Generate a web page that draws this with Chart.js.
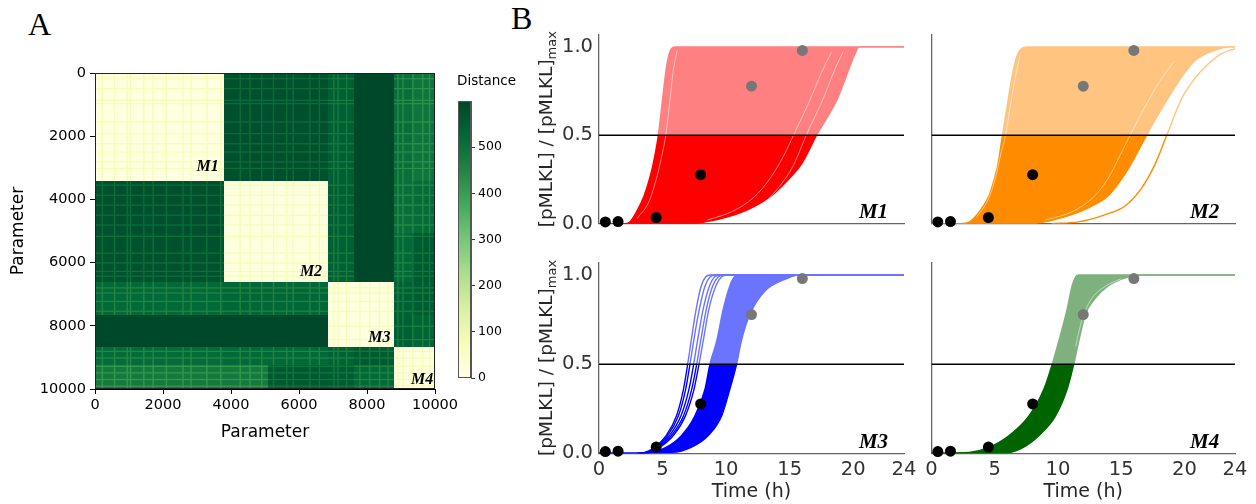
<!DOCTYPE html>
<html><head><meta charset="utf-8">
<script src="https://cdn.jsdelivr.net/npm/chart.js@4.4.1/dist/chart.umd.min.js"></script>
<style>
body{margin:0;background:#fff;width:1256px;height:504px;overflow:hidden;position:relative;}
canvas{position:absolute;}
.lbl{position:absolute;font-family:"Liberation Serif","DejaVu Serif",serif;font-size:32px;line-height:1;color:#000;}
</style></head><body>
<div class="lbl" style="left:28px;top:8px">A</div>
<div class="lbl" style="left:511px;top:2px">B</div>
<canvas id="hm" width="452" height="383" style="left:8px;top:60px"></canvas>
<canvas id="cb" width="69" height="323" style="left:452px;top:65px"></canvas>
<canvas id="p1" width="391" height="205" style="left:529px;top:29px"></canvas>
<canvas id="p2" width="321" height="205" style="left:926px;top:29px"></canvas>
<canvas id="p3" width="391" height="246" style="left:529px;top:257px"></canvas>
<canvas id="p4" width="321" height="246" style="left:926px;top:257px"></canvas>
<script>
// ---------------- Panel A data ----------------
const hmTicks = [0, 2000, 4000, 6000, 8000, 10000];
const cbTicks = [0, 100, 200, 300, 400, 500];
const cbMax = 600;
const hmColEdges = [0, 3790, 5100, 6850, 7620, 8780, 9310, 10000];
const hmRowEdges = [0, 3430, 5060, 6620, 7650, 8670, 9230, 10000];
const hmDist = [
  [10, 578, 578, 545, 594, 505, 495],
  [578, 10, 10, 545, 594, 505, 515],
  [572, 10, 10, 540, 594, 520, 555],
  [520, 525, 525, 10, 10, 540, 548],
  [594, 594, 594, 10, 10, 545, 530],
  [515, 520, 520, 535, 552, 10, 10],
  [480, 480, 558, 552, 520, 10, 10]
];
const hmStriped = [
  [1,1,1,1,0,1,1],
  [1,1,1,1,0,1,1],
  [1,1,1,1,0,1,1],
  [1,1,1,1,1,1,1],
  [0,0,0,1,1,1,1],
  [1,1,1,1,1,1,1],
  [1,1,1,1,1,1,1]
];
const hmColStripes = [215, 576, 948, 1045, 1436, 1710, 2100, 2590, 2825, 3290, 3700, 4270, 4560, 4905, 5250, 5640, 5830, 6320, 6600, 7025, 7150, 7400, 7790, 8080, 8370, 8620, 8910, 9060, 9350, 9640, 9840];
const hmRowStripes = [180, 495, 865, 970, 1550, 1920, 2240, 2500, 2810, 3020, 3550, 3870, 4180, 4500, 4810, 5170, 5700, 6010, 6280, 6430, 6800, 6960, 7230, 7540, 8016, 8437, 8810, 9020, 9280, 9490, 9700, 9910];
const hmClusterNames = ['M1', 'M2', 'M3', 'M4'];

// ---------------- Panel B data ----------------
const timeTicks = [0, 5, 10, 15, 20, 24];
const fracTicks = [0, 0.5, 1.0];
const threshold = 0.5;
const obsTime = [0.5, 1.5, 4.5, 8, 12, 16];
const obsValue = [0.01, 0.012, 0.035, 0.277, 0.778, 0.98];
const obsKind = ['fit', 'fit', 'fit', 'fit', 'test', 'test'];

const m1Left = [[0,0],[2.0,0],[2.4,0.008],[2.96,0.068],[3.56,0.16],[3.96,0.25],[4.27,0.34],[4.67,0.5],[5.01,0.71],[5.32,0.89],[5.59,0.975],[5.98,1.0],[24,1.0]];
const m1Right = [[0,0],[7.3,0],[8.34,0.01],[10.2,0.04],[12.0,0.09],[13.6,0.16],[14.9,0.25],[15.95,0.34],[17.12,0.5],[18.78,0.71],[19.75,0.89],[20.2,0.97],[20.45,1.0],[24,1.0]];
const m1GapA = [[3.0,0.03],[3.9,0.12],[4.5,0.25],[4.9,0.37],[5.25,0.5],[5.55,0.68],[5.85,0.87],[6.15,0.98]];
const m1GapB = [[9.5,0.02],[11.5,0.06],[13.0,0.12],[14.3,0.22],[15.3,0.33],[16.3,0.5],[17.6,0.7],[18.6,0.88],[19.2,0.97]];
const m1GapC = [[8.5,0.02],[10.5,0.07],[12.2,0.15],[13.5,0.26],[14.5,0.38],[15.3,0.5],[16.6,0.7],[17.6,0.87],[18.3,0.97]];

const m2Left = [[0,0],[2.3,0],[3.0,0.01],[3.78,0.068],[4.56,0.16],[4.96,0.25],[5.27,0.34],[5.61,0.5],[6.08,0.71],[6.53,0.89],[6.92,0.975],[7.58,1.0],[24,1.0]];
const m2Right = [[0,0],[7.7,0],[10.6,0.04],[12.4,0.09],[14.0,0.16],[15.0,0.25],[15.8,0.34],[17.0,0.5],[17.95,0.62],[19.5,0.8],[20.8,0.92],[22.4,0.98],[23.7,1.0],[24,1.0]];
const m2Outlier = [[9.5,0],[11.6,0.01],[13.7,0.05],[15.3,0.1],[16.6,0.2],[17.7,0.34],[18.6,0.5],[19.8,0.71],[20.8,0.82],[21.7,0.89],[22.9,0.96],[24,0.99]];
const m2GapA = [[9.0,0.02],[11.2,0.07],[12.8,0.15],[14.0,0.26],[15.0,0.4],[15.7,0.5],[16.8,0.65],[18.0,0.8],[19.2,0.92]];
const m2GapB = [[3.6,0.04],[4.5,0.14],[5.1,0.27],[5.5,0.4],[5.85,0.5],[6.2,0.65],[6.6,0.82],[7.0,0.95]];

const m3Left = [[0,0],[3.6,0],[5.19,0.03],[6.5,0.1],[7.55,0.21],[8.34,0.36],[8.73,0.5],[9.26,0.63],[9.78,0.81],[10.3,0.94],[10.6,0.985],[10.96,1.0],[24,1.0]];
const m3Right = [[0,0],[5.72,0.005],[7.29,0.035],[8.6,0.1],[9.65,0.21],[10.3,0.36],[10.83,0.5],[11.2,0.63],[11.88,0.78],[13.06,0.91],[14.77,0.98],[15.7,1.0],[24,1.0]];
const m3EarlyA = [[3.0,0],[3.6,0.005],[4.2,0.025],[5.3,0.1],[6.1,0.21],[6.65,0.36],[6.98,0.5],[7.25,0.63],[7.65,0.81],[8.05,0.94],[8.4,0.99],[8.73,1.0],[24,1.0]];
const m3EarlyB = [[3.1,0],[3.7,0.005],[4.3,0.025],[5.4,0.1],[6.25,0.21],[6.82,0.36],[7.16,0.5],[7.45,0.63],[7.9,0.81],[8.35,0.94],[8.75,0.99],[9.13,1.0],[24,1.0]];
const m3EarlyC = [[3.2,0],[3.8,0.005],[4.4,0.025],[5.55,0.1],[6.45,0.21],[7.08,0.36],[7.45,0.5],[7.75,0.63],[8.2,0.81],[8.7,0.94],[9.1,0.99],[9.52,1.0],[24,1.0]];
const m3EarlyD = [[3.3,0],[3.9,0.005],[4.5,0.025],[5.7,0.1],[6.65,0.21],[7.3,0.36],[7.69,0.5],[8.0,0.63],[8.45,0.81],[8.95,0.94],[9.4,0.99],[9.78,1.0],[24,1.0]];
const m3EarlyE = [[3.4,0],[4.0,0.005],[4.6,0.025],[5.85,0.1],[6.8,0.21],[7.48,0.36],[7.87,0.5],[8.2,0.63],[8.65,0.81],[9.2,0.94],[9.65,0.99],[10.04,1.0],[24,1.0]];

const m4Left = [[0,0],[2.99,0.005],[4.43,0.03],[6.14,0.1],[7.71,0.21],[8.89,0.36],[9.55,0.5],[10.07,0.63],[10.73,0.81],[11.12,0.94],[11.4,0.99],[11.65,1.0],[24,1.0]];
const m4Right = [[0,0],[5.74,0],[7.19,0.03],[8.5,0.1],[9.81,0.21],[10.73,0.36],[11.25,0.5],[11.65,0.63],[12.17,0.78],[12.96,0.87],[14.0,0.94],[15.6,0.99],[16.9,1.0],[24,1.0]];
const m4Gap = [[11.4,0.6],[11.9,0.75],[12.6,0.86],[13.6,0.93],[15.0,0.98]];

// ---------------- helpers ----------------
Chart.defaults.font.family = '"DejaVu Sans", sans-serif';
Chart.defaults.animation = false;

const ylgn = ['#ffffe5','#f7fcb9','#d9f0a3','#addd8e','#78c679','#41ab5d','#238443','#006837','#004529']
  .map(h => [parseInt(h.slice(1,3),16), parseInt(h.slice(3,5),16), parseInt(h.slice(5,7),16)]);
function cmap(v) {
  const t = Math.max(0, Math.min(1, v / cbMax)) * (ylgn.length - 1);
  const i = Math.min(ylgn.length - 2, Math.floor(t));
  const f = t - i, a = ylgn[i], b = ylgn[i + 1];
  return 'rgb(' + [0,1,2].map(k => Math.round(a[k] + (b[k] - a[k]) * f)).join(',') + ')';
}
function zeroPad(s) { s.paddingTop = 0; s.paddingBottom = 0; s.paddingLeft = 0; s.paddingRight = 0; }
const pts = arr => arr.map(([x, y]) => ({x, y}));

// ---------------- Panel A: heatmap ----------------
const heatPlugin = {
  id: 'heat',
  beforeDatasetsDraw(chart) {
    const {ctx, chartArea: a} = chart;
    const x = chart.scales.x, y = chart.scales.y;
    ctx.save();
    ctx.beginPath(); ctx.rect(a.left, a.top, a.right - a.left, a.bottom - a.top); ctx.clip();
    const px = v => Math.round(x.getPixelForValue(v));
    const py = v => Math.round(y.getPixelForValue(v));
    const sw = 40;
    for (let r = 0; r < hmDist.length; r++) {
      for (let c = 0; c < hmDist[r].length; c++) {
        const v = hmDist[r][c];
        const x0 = px(hmColEdges[c]), x1 = px(hmColEdges[c + 1]);
        const y0 = py(hmRowEdges[r]), y1 = py(hmRowEdges[r + 1]);
        ctx.fillStyle = cmap(v);
        ctx.fillRect(x0, y0, x1 - x0, y1 - y0);
        if (hmStriped[r][c]) {
          ctx.fillStyle = cmap(v < 100 ? v + 68 : v - 70);
          hmColStripes.forEach(s => {
            if (s >= hmColEdges[c] && s < hmColEdges[c + 1]) {
              const a0 = x.getPixelForValue(s - sw / 2), a1 = x.getPixelForValue(s + sw / 2);
              ctx.fillRect(a0, y0, a1 - a0, y1 - y0);
            }
          });
          hmRowStripes.forEach(s => {
            if (s >= hmRowEdges[r] && s < hmRowEdges[r + 1]) {
              const b0 = y.getPixelForValue(s - sw / 2), b1 = y.getPixelForValue(s + sw / 2);
              ctx.fillRect(x0, b0, x1 - x0, b1 - b0);
            }
          });
        }
      }
    }
    ctx.restore();
    ctx.save();
    ctx.strokeStyle = '#222'; ctx.lineWidth = 1;
    ctx.strokeRect(Math.round(a.left) + 0.5, Math.round(a.top) + 0.5, Math.round(a.right - a.left) - 1, Math.round(a.bottom - a.top) - 1);
    ctx.font = 'bold italic 16px "Liberation Serif", serif';
    ctx.fillStyle = '#000'; ctx.textAlign = 'right'; ctx.textBaseline = 'alphabetic';
    const anchors = [[3640, 3110], [6680, 6410], [8690, 8510], [9950, 9840]];
    hmClusterNames.forEach((n, i) => ctx.fillText(n, x.getPixelForValue(anchors[i][0]), y.getPixelForValue(anchors[i][1])));
    ctx.restore();
  }
};
const hmAxis = (pos, extra) => Object.assign({
  type: 'linear', min: 0, max: 10000, position: pos,
  afterBuildTicks: s => { s.ticks = hmTicks.map(v => ({value: v})); },
  ticks: {callback: v => String(v), font: {size: 14.5}, color: '#000', padding: pos === 'bottom' ? 3 : 4, maxRotation: 0, autoSkip: false},
  grid: {display: true, drawOnChartArea: false, drawTicks: true, tickLength: 5, color: '#000', lineWidth: 1},
  border: {display: true, color: '#000', width: 1},
  title: {display: true, text: 'Parameter', font: {size: 17}, color: '#000', padding: 0}
}, extra);
new Chart(document.getElementById('hm'), {
  type: 'scatter',
  data: {datasets: []},
  options: {
    responsive: false, animation: false,
    layout: {padding: {top: 13, right: 25, left: 0, bottom: 0}},
    plugins: {legend: {display: false}, tooltip: {enabled: false}},
    scales: {
      x: hmAxis('bottom', {afterFit: s => { s.height = 54; zeroPad(s); }}),
      y: hmAxis('left', {reverse: true, afterFit: s => { s.width = 87; zeroPad(s); }})
    }
  },
  plugins: [heatPlugin]
});

// colour bar
const cbPlugin = {
  id: 'cbar',
  beforeDatasetsDraw(chart) {
    const {ctx, chartArea: a} = chart;
    const y = chart.scales.y;
    const g = ctx.createLinearGradient(0, y.getPixelForValue(0), 0, y.getPixelForValue(cbMax));
    ylgn.forEach((c, i) => g.addColorStop(i / (ylgn.length - 1), 'rgb(' + c.join(',') + ')'));
    ctx.save();
    ctx.fillStyle = g;
    ctx.fillRect(a.left, a.top, a.right - a.left, a.bottom - a.top);
    ctx.strokeStyle = '#555'; ctx.lineWidth = 1;
    ctx.strokeRect(a.left + 0.5, a.top + 0.5, a.right - a.left - 1, a.bottom - a.top - 1);
    ctx.font = '13.5px "DejaVu Sans"'; ctx.fillStyle = '#000';
    ctx.textAlign = 'left'; ctx.textBaseline = 'middle';
    ctx.fillText('Distance', 5, 16);
    ctx.restore();
  }
};
new Chart(document.getElementById('cb'), {
  type: 'scatter',
  data: {datasets: []},
  options: {
    responsive: false, animation: false,
    layout: {padding: {top: 36, left: 6, bottom: 10, right: 0}},
    plugins: {legend: {display: false}, tooltip: {enabled: false}},
    scales: {
      x: {display: false, min: 0, max: 1},
      y: {type: 'linear', min: 0, max: cbMax, position: 'right',
          afterBuildTicks: s => { s.ticks = cbTicks.map(v => ({value: v})); },
          afterFit: s => { s.width = 50; zeroPad(s); },
          ticks: {font: {size: 12.5}, color: '#000', padding: 3},
          grid: {display: true, drawOnChartArea: false, drawTicks: true, tickLength: 4, color: '#333'},
          border: {display: true, color: '#555'}}
    }
  },
  plugins: [cbPlugin]
});

// ---------------- Panel B ----------------
function grad(chart, light, solid) {
  const {chartArea, scales, ctx} = chart;
  if (!chartArea) return solid;
  const yMid = scales.y.getPixelForValue(threshold);
  const g = ctx.createLinearGradient(0, chartArea.top, 0, chartArea.bottom);
  const f = Math.max(0, Math.min(1, (yMid - chartArea.top) / (chartArea.bottom - chartArea.top)));
  g.addColorStop(0, light); g.addColorStop(f, light); g.addColorStop(f, solid); g.addColorStop(1, solid);
  return g;
}
const panels = [
  {id: 'p1', name: 'M1', yw: 70, plotH: 194.7, padR: 16, showX: false, showY: true, solid: '#ff0000', light: '#ff8080', left: m1Left, right: m1Right, lines: [], gaps: [m1GapA, m1GapB, m1GapC], pageLeft: 529},
  {id: 'p2', name: 'M2', yw: 4, plotH: 194.7, padR: 12, showX: false, showY: false, solid: '#ff8c00', light: '#ffc580', left: m2Left, right: m2Right, lines: [m2Outlier], gaps: [m2GapA, m2GapB], pageLeft: 926},
  {id: 'p3', name: 'M3', yw: 70, plotH: 196.3, padR: 16, showX: true, showY: true, solid: '#0000ff', light: '#6a74ff', left: m3Left, right: m3Right, lines: [m3EarlyA, m3EarlyB, m3EarlyC, m3EarlyD, m3EarlyE], gaps: [], pageLeft: 529},
  {id: 'p4', name: 'M4', yw: 4, plotH: 196.3, padR: 12, showX: true, showY: false, solid: '#006400', light: '#7fb17f', left: m4Left, right: m4Right, lines: [], gaps: [m4Gap], pageLeft: 926}
];
panels.forEach(p => {
  const cv = document.getElementById(p.id);
  const xh = cv.height - p.plotH;
  const col = c => grad(c.chart, p.light, p.solid);
  const ds = [];
  ds.push({data: obsTime.map((t, i) => ({x: t, y: obsValue[i]})), showLine: false, pointRadius: 5.5, pointBorderWidth: 0,
           pointBackgroundColor: obsKind.map(k => k === 'fit' ? '#000000' : '#777777'), clip: false, order: 0});
  ds.push({data: [{x: 0, y: threshold}, {x: 24, y: threshold}], borderColor: '#000', borderWidth: 1.5, pointRadius: 0, order: 1});
  p.gaps.forEach(g => ds.push({data: pts(g), borderColor: 'rgba(255,255,255,0.5)', borderWidth: 1, pointRadius: 0, cubicInterpolationMode: 'monotone', order: 2}));
  p.lines.forEach(l => ds.push({data: pts(l), borderColor: col, borderWidth: 1.4, pointRadius: 0, cubicInterpolationMode: 'monotone', order: 3}));
  const iL = ds.length;
  ds.push({data: pts(p.left), borderColor: col, borderWidth: 1.4, pointRadius: 0, cubicInterpolationMode: 'monotone', order: 5});
  ds.push({data: pts(p.right), borderColor: col, backgroundColor: col, fill: iL, borderWidth: 1.4, pointRadius: 0, cubicInterpolationMode: 'monotone', order: 4});
  const textPlugin = {
    id: 'txt' + p.id,
    afterDatasetsDraw(chart) {
      const {ctx, chartArea: a, scales} = chart;
      ctx.save();
      ctx.font = 'bold italic 21px "Liberation Serif", serif';
      ctx.fillStyle = '#000'; ctx.textAlign = 'right'; ctx.textBaseline = 'alphabetic';
      ctx.fillText(p.name, scales.x.getPixelForValue(22.75), scales.y.getPixelForValue(0.03));
      if (p.showY) {
        ctx.translate(552 - p.pageLeft, (a.top + a.bottom) / 2);
        ctx.rotate(-Math.PI / 2);
        ctx.fillStyle = '#262626';
        ctx.font = '18.5px "DejaVu Sans"';
        const main = '[pMLKL] / [pMLKL]';
        const wMain = ctx.measureText(main).width;
        ctx.font = '13px "DejaVu Sans"';
        const wSub = ctx.measureText('max').width;
        const start = -(wMain + wSub) / 2;
        ctx.textAlign = 'left';
        ctx.font = '18.5px "DejaVu Sans"';
        ctx.fillText(main, start, 0);
        ctx.font = '13px "DejaVu Sans"';
        ctx.fillText('max', start + wMain, 4);
      }
      ctx.restore();
    }
  };
  new Chart(cv, {
    type: 'line',
    data: {datasets: ds},
    options: {
      responsive: false, animation: false,
      layout: {padding: {top: 0, left: 0, bottom: 0, right: p.padR}},
      plugins: {legend: {display: false}, tooltip: {enabled: false}},
      elements: {line: {tension: 0}},
      scales: {
        x: {type: 'linear', min: 0, max: 24,
            afterBuildTicks: s => { s.ticks = timeTicks.map(v => ({value: v})); },
            afterFit: s => { s.height = xh; zeroPad(s); },
            ticks: {display: p.showX, font: {size: 19.5}, color: '#333', padding: 5, maxRotation: 0, autoSkip: false, callback: v => String(v)},
            grid: {display: false, drawTicks: false},
            border: {display: true, color: '#666', width: 1.3},
            title: {display: p.showX, text: 'Time (h)', font: {size: 19}, color: '#262626', padding: 0}},
        y: {type: 'linear', min: 0, max: 1.07,
            afterBuildTicks: s => { s.ticks = fracTicks.map(v => ({value: v})); },
            afterFit: s => { s.width = p.yw; zeroPad(s); },
            ticks: {display: p.showY, font: {size: 19.5}, color: '#333', padding: 6, callback: v => Number(v).toFixed(1)},
            grid: {display: false, drawTicks: false},
            border: {display: true, color: '#666', width: 1.3}}
      }
    },
    plugins: [textPlugin]
  });
});
</script>
</body></html>
